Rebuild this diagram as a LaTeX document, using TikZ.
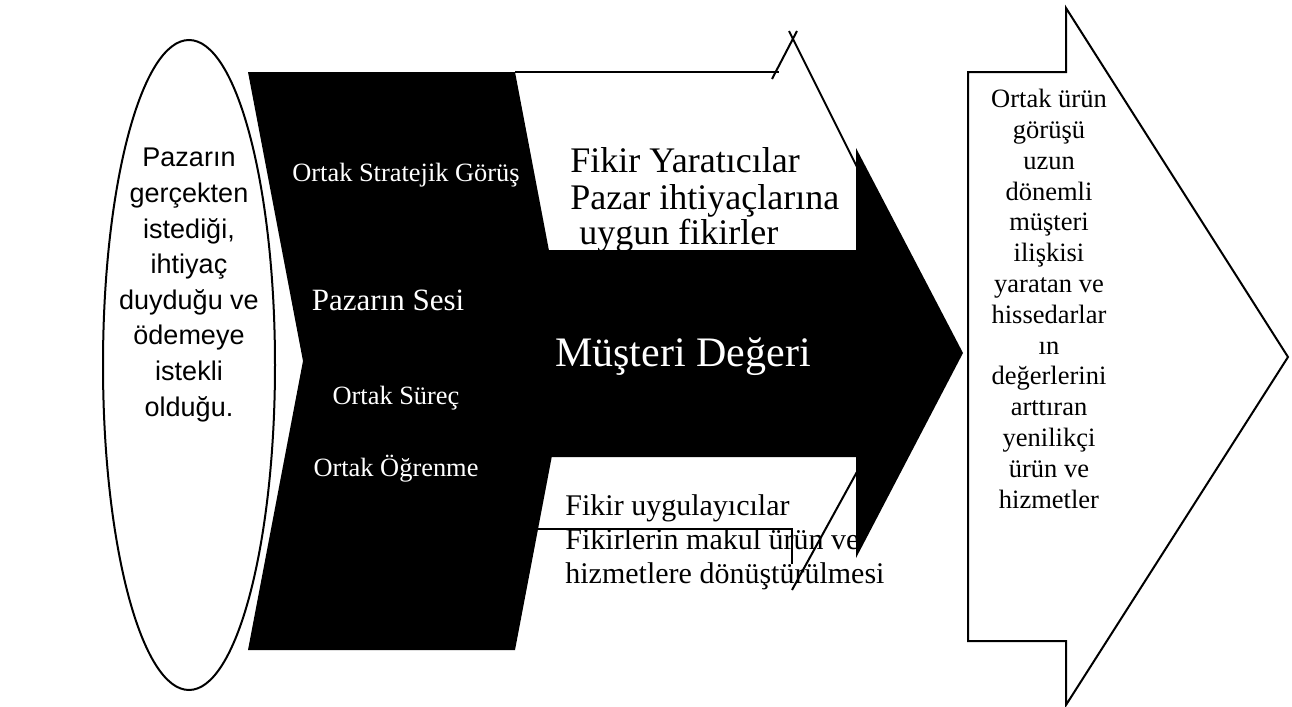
\documentclass[tikz,border=0pt]{standalone}
\usepackage{fontspec}
\setmainfont{Liberation Serif}
\newfontfamily\arialfont{Liberation Sans}
\begin{document}
\begin{tikzpicture}[x=0.5pt,y=-0.5pt,
  edge/.style={line width=1pt, black},
  linetext/.style={anchor=base west, inner sep=0pt, font=\fontsize{15}{17.8}\selectfont},
  toptext/.style={anchor=base west, inner sep=0pt, font=\fontsize{18}{20}\selectfont},
  whitetext/.style={text=white, inner sep=0pt, font=\fontsize{13.2}{15}\selectfont},
  bigwhite/.style={text=white, inner sep=0pt, font=\fontsize{15.5}{18}\selectfont}]
\useasboundingbox (0,0) rectangle (1292,707);
% market ellipse
\draw [edge] (189,365) ellipse [x radius=86, y radius=325];
\node (pazar) [inner sep=0pt, align=center, font=\arialfont\fontsize{13.5}{17.8}\selectfont] at (189,285)
  {Pazarın\\gerçekten\\istediği,\\ihtiyaç\\duyduğu ve\\ödemeye\\istekli\\olduğu.};
% upper white arrow
\coordinate (ua1) at (515,72);
\coordinate (ua2) at (779,72);
\draw [edge] (ua1) -- (ua2);
\draw [edge] (772,79) -- (797,31);
\draw [edge] (789,31) -- (880,213);
% lower white arrow
\coordinate (la1) at (538,529);
\coordinate (la2) at (792,529);
\draw [edge] (la1) -- (la2) -- (792,564);
\draw [edge] (792,590) -- (880,430);
% black chevron and big arrow
\fill [black] (248,72) -- (515,72) -- (570,361) -- (515,650) -- (248,650) -- (303,361) -- cycle;
\fill [black] (540,250) -- (856,250) -- (856,148) -- (963,353) -- (856,558) -- (856,457) -- (540,457) -- cycle;
% right outline arrow
\draw [edge, fill=white] (968,72) -- (1066,72) -- (1066,8) -- (1288,357) -- (1066,705) -- (1066,641) -- (968,641) -- cycle;
\node (urun) [inner sep=0pt, anchor=north, align=center, font=\fontsize{13.25}{15.4}\selectfont] at (1049,89)
  {Ortak ürün\\görüşü\\uzun\\dönemli\\müşteri\\ilişkisi\\yaratan ve\\hissedarlar\\ın\\değerlerini\\arttıran\\yenilikçi\\ürün ve\\hizmetler};
% white labels on black
\node (gorus) [whitetext] at (406,175) {Ortak Stratejik Görüş};
\node (ses) [bigwhite] at (388,300) {Pazarın Sesi};
\node (surec) [whitetext] at (396,398) {Ortak Süreç};
\node (ogren) [whitetext] at (396,469) {Ortak Öğrenme};
\node (deger) [text=white, inner sep=0pt, font=\fontsize{21}{23}\selectfont] at (683,357) {Müşteri Değeri};
% texts in the white arrows
\node (fy1) [toptext] at (570,172) {Fikir Yaratıcılar};
\node (fy2) [toptext] at (570,209) {Pazar ihtiyaçlarına};
\node (fy3) [toptext] at (579,244) {uygun fikirler};
\node (fu1) [linetext] at (565,515) {Fikir uygulayıcılar};
\node (fu2) [linetext] at (565,549) {Fikirlerin makul ürün ve};
\node (fu3) [linetext] at (565,583) {hizmetlere dönüştürülmesi};
\end{tikzpicture}
\end{document}
